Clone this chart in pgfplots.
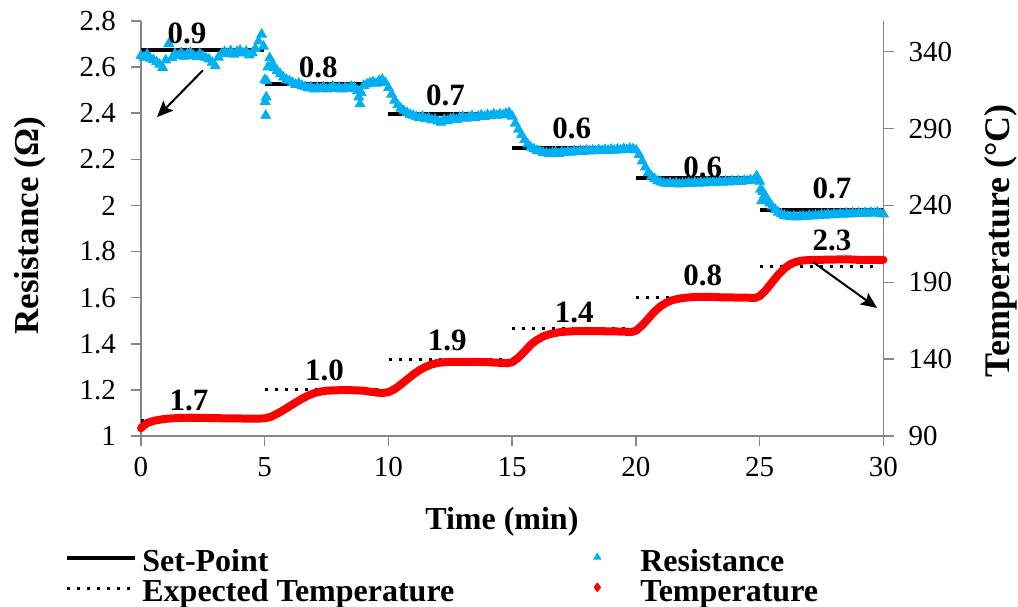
\documentclass[border=0pt]{standalone}
\usepackage{fontspec}
\setmainfont{Liberation Serif}
\usepackage{pgfplots}
\pgfplotsset{compat=1.18}
\usetikzlibrary{arrows.meta}
\definecolor{resblue}{RGB}{0,176,240}
\definecolor{axgray}{RGB}{134,134,134}
\newcommand{\annfont}{\bfseries\fontsize{15.5}{15.5}\selectfont}
\pgfplotsset{
  linelegend/.style={legend image code/.code={\draw[##1] (0pt,2pt) -- (34pt,2pt);}},
  marklegend/.style={legend image code/.code={\path[draw opacity=0, fill opacity=0] (0pt,2.5pt) -- (34pt,2.5pt);\draw[##1] plot coordinates {(17pt,2.5pt)};}},
  templegend/.style={legend image code/.code={\path[draw opacity=0, fill opacity=0] (0pt,2.5pt) -- (34pt,2.5pt);\draw[red,line width=0.4pt] plot[only marks, mark=diamond*, mark size=2.2pt] coordinates {(17pt,2.5pt)};}},
}
\begin{document}
\begin{tikzpicture}
\path[use as bounding box] (-70.5pt,-85pt) rectangle (438.5pt,218pt);
\pgfplotsset{
  every axis/.append style={
    scale only axis, width=371.25pt, height=207.5pt,
    xmin=0, xmax=30, clip=false,
    axis line style={axgray, line width=0.75pt},
    tick style={axgray, line width=0.75pt},
    tick align=outside,
    major tick length=5pt,
    tick label style={font=\fontsize{14.5}{14.5}\selectfont},
    /pgf/number format/assume math mode=true,
  }
}
\begin{axis}[
  axis x line*=bottom, axis y line*=left,
  ymin=1, ymax=2.8,
  ytick={1,1.2,1.4,1.6,1.8,2,2.2,2.4,2.6,2.8},
  xtick={0,5,10,15,20,25,30},
  yticklabel style={xshift=-4pt},
  xticklabel style={yshift=-2pt},
  xlabel={Time (min)},
  xlabel style={font=\bfseries\fontsize{16}{16}\selectfont, at={(axis description cs:0.486,-0.207)}, anchor=center},
  ylabel={Resistance (Ω)},
  ylabel style={font=\bfseries\fontsize{17.5}{17.5}\selectfont, at={(axis description cs:-0.1495,0.506)}, anchor=center},
]
% Set-point
\addplot[black, line width=2pt, unbounded coords=jump] coordinates {
(0,2.673) (4.95,2.673) (4.97,nan)
(5,2.525) (9.95,2.525) (9.97,nan)
(10,2.398) (14.95,2.398) (14.97,nan)
(15,2.250) (19.95,2.250) (19.97,nan)
(20,2.117) (24.95,2.117) (24.97,nan)
(25,1.980) (30,1.980)
};
% Resistance
\addplot[only marks, mark=triangle*, mark size=2.8pt, color=resblue] table {
x y
0 2.650
0.125 2.642
0.25 2.656
0.375 2.638
0.5 2.632
0.625 2.622
0.75 2.612
0.875 2.598
1 2.630
1.125 2.702
1.25 2.640
1.375 2.658
1.5 2.648
1.625 2.662
1.75 2.646
1.875 2.657
2 2.663
2.125 2.650
2.25 2.644
2.375 2.658
2.5 2.647
2.625 2.640
2.75 2.634
2.875 2.620
3 2.605
3.125 2.642
3.25 2.657
3.375 2.666
3.5 2.658
3.625 2.670
3.75 2.655
3.875 2.667
4 2.672
4.125 2.660
4.25 2.668
4.375 2.652
4.5 2.662
4.625 2.680
4.75 2.712
4.875 2.742
4.95 2.690
5 2.545
5.02 2.450
5.04 2.390
5.06 2.470
5.08 2.540
5.125 2.600
5.2 2.640
5.3 2.615
5.4 2.598
5.5 2.585
5.625 2.570
5.75 2.556
5.875 2.546
6 2.540
6.125 2.532
6.25 2.524
6.375 2.530
6.5 2.519
6.625 2.514
6.75 2.509
6.875 2.513
7 2.504
7.125 2.511
7.25 2.506
7.375 2.513
7.5 2.504
7.625 2.510
7.75 2.516
7.875 2.507
8 2.512
8.125 2.504
8.25 2.511
8.375 2.507
8.5 2.516
8.625 2.512
8.75 2.498
8.8 2.470
8.85 2.440
8.9 2.488
9 2.520
9.125 2.526
9.25 2.531
9.375 2.536
9.5 2.529
9.625 2.541
9.75 2.546
9.875 2.532
10 2.510
10.125 2.482
10.25 2.456
10.375 2.436
10.5 2.421
10.625 2.410
10.75 2.402
10.875 2.394
11 2.390
11.125 2.384
11.25 2.380
11.375 2.386
11.5 2.375
11.625 2.379
11.75 2.370
11.875 2.373
12 2.365
12.125 2.360
12.25 2.372
12.375 2.367
12.5 2.376
12.625 2.378
12.75 2.371
12.875 2.381
13 2.385
13.125 2.377
13.25 2.383
13.375 2.389
13.5 2.380
13.625 2.386
13.75 2.391
13.875 2.385
14 2.393
14.125 2.388
14.25 2.396
14.375 2.390
14.5 2.396
14.625 2.392
14.75 2.399
14.875 2.402
15 2.386
15.125 2.356
15.25 2.330
15.375 2.306
15.5 2.285
15.625 2.266
15.75 2.252
15.875 2.245
16 2.238
16.125 2.235
16.25 2.229
16.375 2.227
16.5 2.224
16.625 2.229
16.75 2.231
16.875 2.225
17 2.232
17.125 2.228
17.25 2.234
17.375 2.230
17.5 2.236
17.625 2.232
17.75 2.238
17.875 2.233
18 2.239
18.125 2.235
18.25 2.240
18.375 2.236
18.5 2.241
18.625 2.237
18.75 2.242
18.875 2.238
19 2.243
19.125 2.239
19.25 2.244
19.375 2.240
19.5 2.246
19.625 2.242
19.75 2.247
19.875 2.245
20 2.240
20.125 2.220
20.25 2.192
20.375 2.166
20.5 2.142
20.625 2.126
20.75 2.115
20.875 2.106
21 2.101
21.125 2.097
21.25 2.094
21.375 2.098
21.5 2.093
21.625 2.097
21.75 2.092
21.875 2.096
22 2.094
22.125 2.099
22.25 2.095
22.375 2.100
22.5 2.096
22.625 2.101
22.75 2.097
22.875 2.102
23 2.098
23.125 2.103
23.25 2.099
23.375 2.104
23.5 2.100
23.625 2.105
23.75 2.101
23.875 2.106
24 2.102
24.125 2.107
24.25 2.103
24.375 2.108
24.5 2.106
24.625 2.111
24.75 2.108
24.875 2.128
25 2.104
25.04 2.070
25.08 2.020
25.125 2.060
25.2 2.045
25.3 2.028
25.4 2.010
25.5 1.996
25.625 1.982
25.75 1.970
25.875 1.962
26 1.956
26.125 1.953
26.25 1.950
26.375 1.953
26.5 1.949
26.625 1.952
26.75 1.954
26.875 1.951
27 1.956
27.125 1.953
27.25 1.958
27.375 1.955
27.5 1.960
27.625 1.957
27.75 1.962
27.875 1.958
28 1.963
28.125 1.960
28.25 1.964
28.375 1.961
28.5 1.966
28.625 1.962
28.75 1.967
28.875 1.963
29 1.967
29.125 1.964
29.25 1.968
29.375 1.965
29.5 1.969
29.625 1.966
29.75 1.970
29.875 1.964
30 1.962
};
\end{axis}
\begin{axis}[
  axis x line=none, axis y line*=right,
  ymin=90, ymax=360,
  ytick={90,140,190,240,290,340},
  yticklabel style={xshift=4pt},
  ylabel={Temperature (°C)},
  ylabel style={font=\bfseries\fontsize{18}{18}\selectfont, at={(axis description cs:1.158,0.47)}, anchor=center},
  legend columns=2,
  legend cell align=left,
  legend style={at={(axis description cs:-0.1024,-0.263)}, anchor=north west,
    draw=none, fill=none, inner sep=0pt,
    font=\bfseries\fontsize{16}{16}\selectfont, row sep=-1.5pt,
    /tikz/every odd column/.append style={column sep=0.5pt},
    /tikz/every even column/.append style={column sep=50.5pt}},
]
\addlegendimage{black, line width=2pt, linelegend}
\addlegendentry{Set-Point}
\addlegendimage{only marks, mark=triangle*, mark size=2pt, color=resblue, marklegend}
\addlegendentry{Resistance}
% Expected temperature
\addplot[black, line width=1.5pt, dash pattern=on 1.5pt off 3.5pt, unbounded coords=jump, linelegend] coordinates {
(0,100) (4.75,100) (4.8,nan)
(5,120) (9.75,120) (9.8,nan)
(10,140) (14.75,140) (14.8,nan)
(15,160) (19.75,160) (19.8,nan)
(20,180) (24.75,180) (24.8,nan)
(25,200) (29.65,200)
};
\addlegendentry{Expected Temperature}
% Temperature
\addplot[red, line width=4pt, line cap=round, line join=round, templegend] table {
x y
0 95
0.125 97
0.25 98.5
0.5 99.8
0.75 100.6
1 101.2
1.5 101.7
2 101.9
2.5 101.8
3 101.6
3.5 101.5
4 101.4
4.5 101.3
4.9 101.4
5 101.5
5.25 102.5
5.5 104.5
5.75 106.8
6 109.3
6.25 111.8
6.5 114.2
6.75 116.3
7 117.9
7.25 118.9
7.5 119.5
8 119.8
8.5 119.8
9 119.5
9.25 118.8
9.5 118.3
9.75 118.0
10 118.5
10.25 120.5
10.5 123.5
10.75 126.8
11 130.0
11.25 132.8
11.5 135.0
11.75 136.6
12 137.6
12.5 138.3
13 138.3
13.5 138.2
14 138.0
14.5 137.6
14.8 137.3
15 138
15.25 141
15.5 145
15.75 149.5
16 152.5
16.25 154.8
16.5 156.2
16.75 157.1
17 157.7
17.5 158.2
18 158.3
19 158.1
19.5 157.9
19.8 157.6
20 158.5
20.25 162
20.5 166.5
20.75 171
21 174.5
21.25 177
21.5 178.5
21.75 179.4
22 180.0
22.5 180.6
23 180.5
23.5 180.2
24 180.1
24.5 180.0
24.8 179.8
25 181
25.25 185
25.5 190
25.75 195
26 199
26.25 202
26.5 203.5
26.75 204.2
27 204.5
28 204.8
28.5 205
29 204.6
30 204.6
};
\addlegendentry{Temperature}
% annotations
\node[font=\annfont] at (axis cs:1.86,352) {0.9};
\node[font=\annfont] at (axis cs:7.16,330) {0.8};
\node[font=\annfont] at (axis cs:12.3,311.7) {0.7};
\node[font=\annfont] at (axis cs:17.4,290.3) {0.6};
\node[font=\annfont] at (axis cs:22.7,265) {0.6};
\node[font=\annfont] at (axis cs:27.92,251.4) {0.7};
\node[font=\annfont] at (axis cs:27.92,217) {2.3};
\node[font=\annfont] at (axis cs:22.7,194.4) {0.8};
\node[font=\annfont] at (axis cs:17.5,170.4) {1.4};
\node[font=\annfont] at (axis cs:12.37,152) {1.9};
\node[font=\annfont] at (axis cs:7.41,132.4) {1.0};
\node[font=\annfont] at (axis cs:1.94,112.8) {1.7};
\draw[black, line width=1pt, -{Stealth[length=8pt,width=7pt,inset=1.5pt]}] (axis cs:2.5,327.9) -- (axis cs:0.65,297.5);
\draw[black, line width=1pt, -{Stealth[length=8pt,width=7pt,inset=1.5pt]}] (axis cs:27.15,203.2) -- (axis cs:29.74,173.3);
\end{axis}
\end{tikzpicture}
\end{document}
